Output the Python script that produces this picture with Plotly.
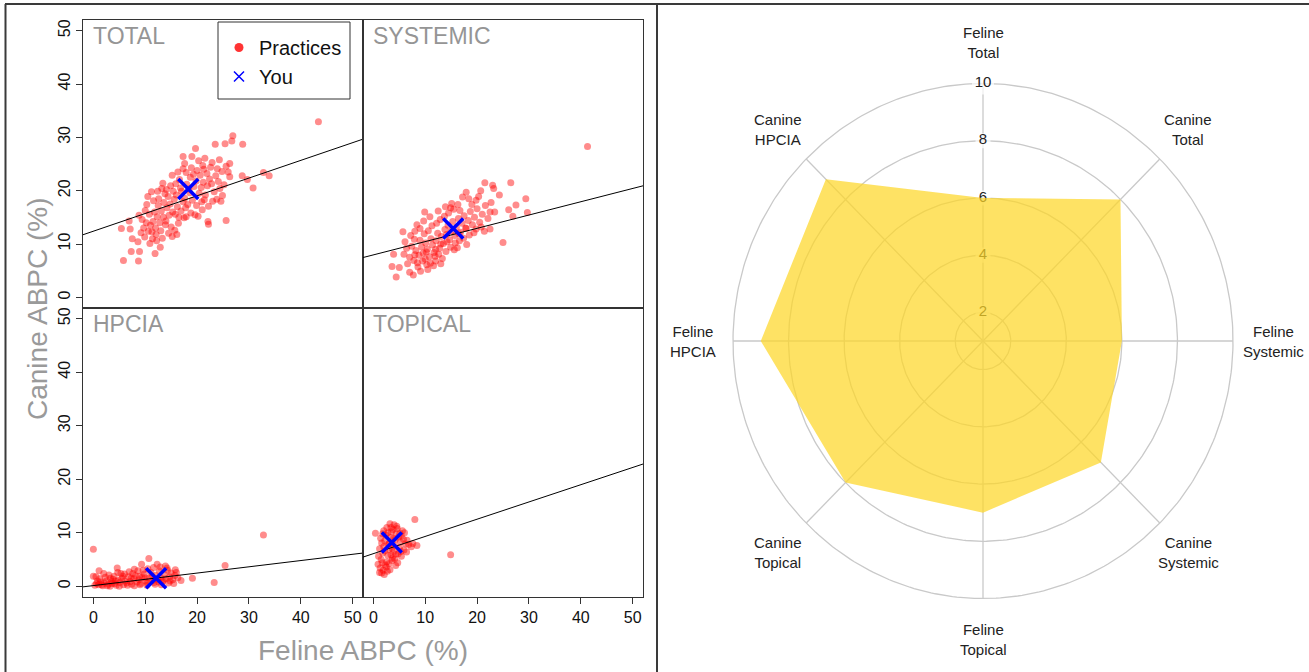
import numpy as np
import plotly.graph_objects as go

W, H = 1309, 672
FONT = "Liberation Sans, Arial, Helvetica, sans-serif"

# ---------------- data ----------------
panel_names = ["TOTAL", "SYSTEMIC", "HPCIA", "TOPICAL"]
axis_ticks = [0, 10, 20, 30, 40, 50]

total_xy = [
    (43.4,32.9),(26.9,30.3),(26.7,29.3),(23.5,28.7),(25.4,28.8),(28.8,28.7),(19.7,27.9),(17.3,26.4),
    (26.3,25.1),(17.3,24.1),(21.1,24.7),(20.0,23.8),(15.2,22.9),(26.0,23.5),(26.3,22.6),(28.7,22.8),
    (29.7,22.1),(32.8,23.4),(33.9,22.8),(30.8,20.5),(25.6,14.4),(22.2,13.7),(24.6,18.0),(23.0,18.0),
    (5.4,12.9),(7.1,12.8),(6.9,14.3),(7.5,11.0),(7.3,8.6),(5.8,6.9),(8.7,6.8),(8.9,8.6),(11.9,8.2),
    (8.6,10.4),(9.9,11.3),(15.2,11.4),(11.2,19.8),(10.5,18.9),(10.3,17.4),(13.2,20.4),(22.1,14.2),
    (11.0,13.5),(11.5,14.2),(12.0,13.0),(12.3,15.1),(12.8,14.0),(13.1,16.2),(13.5,15.0),(13.9,13.6),
    (14.2,16.8),(14.6,15.4),(11.8,16.0),(12.5,17.2),(13.0,12.5),(14.0,14.3),(15.0,13.2),(15.3,16.0),
    (10.8,15.6),(11.3,12.3),(12.1,11.8),(13.6,17.8),(14.8,17.5),(15.8,15.6),(16.2,17.0),(10.2,14.0),
    (9.7,13.0),(10.0,16.3),(12.6,18.5),(14.4,18.9),(15.6,18.4),(16.5,15.0),(16.9,16.2),(17.3,17.9),
    (17.8,16.8),(16.0,19.2),(17.0,19.9),(17.6,18.6),(18.2,17.4),(18.6,19.6),(19.1,18.2),(19.4,20.8),
    (18.0,21.2),(19.8,21.8),(20.4,19.5),(20.8,20.6),(21.2,21.6),(21.6,19.2),(22.0,20.9),(22.4,22.2),
    (21.9,23.2),(22.8,21.3),(23.3,19.8),(23.6,22.8),(24.1,21.7),(24.4,20.4),(24.8,23.6),(25.2,21.1),
    (23.9,24.1),(22.6,24.4),(21.3,24.0),(20.6,22.9),(19.3,23.1),(18.7,22.5),(17.9,23.4),(16.6,22.1),
    (15.9,21.3),(14.9,20.9),(14.1,20.2),(13.8,19.4),(15.4,19.9),(16.8,20.5),(18.4,20.3),(19.9,17.2),
    (20.9,17.9),(21.4,18.3),(22.2,17.1),(23.8,18.4),(24.9,19.1),(21.0,16.4),(19.6,15.5),(18.8,15.8),
    (17.5,14.9),(16.4,13.9),(17.9,15.1),(20.2,15.2),(13.3,11.1),(12.2,10.6),(11.4,11.0),(10.6,12.4),
    (9.4,14.6),(8.8,15.4),(9.2,12.1),(10.9,10.1),(12.9,9.4),(14.5,12.0),(15.7,12.6),(16.1,11.8),
    (13.4,21.4),(12.4,19.9),(11.6,18.1),(16.3,23.5),(18.9,24.3),(20.3,25.6),(21.5,26.1),(22.9,25.3),
    (24.3,25.8),(25.6,24.6),(19.0,26.4),(17.6,25.1),
]
systemic_xy = [
    (41.3,28.3),(21.5,21.5),(26.5,21.5),(23.0,21.0),(23.2,20.4),(20.7,20.0),(17.9,19.7),(24.3,19.2),
    (29.4,18.5),(18.4,18.5),(19.8,18.2),(27.5,17.3),(26.1,16.4),(29.7,15.9),(26.9,15.2),(25.0,10.3),
    (9.9,16.0),(5.7,12.3),(3.9,8.1),(3.6,5.8),(4.4,3.8),(5.0,5.6),(6.6,6.3),(7.7,4.2),(7.0,4.7),
    (5.9,8.1),(7.9,10.9),(9.0,12.9),(14.9,16.8),(16.7,16.3),(22.5,16.0),(23.4,16.0),(22.5,12.8),
    (19.4,12.1),(18.0,9.9),(16.2,9.3),(12.0,6.8),(10.3,6.1),(8.5,6.5),
    (8.2,8.8),(8.8,7.9),(9.3,9.5),(9.6,8.3),(10.1,10.2),(10.4,9.0),(10.8,7.6),(11.1,11.0),(11.4,9.8),
    (11.7,8.4),(12.1,10.6),(12.4,12.0),(12.8,9.2),(13.1,11.4),(13.5,10.1),(13.8,12.7),(14.1,11.8),
    (14.4,13.5),(14.7,10.8),(15.0,12.4),(15.3,14.2),(15.7,11.6),(16.0,13.1),(16.4,14.8),(16.8,12.2),
    (17.1,13.9),(17.5,15.3),(17.9,12.9),(18.3,14.4),(18.7,16.1),(19.1,13.6),(19.5,15.0),(20.0,16.6),
    (20.5,14.1),(21.0,15.6),(21.6,17.2),(22.1,14.8),(22.7,17.8),(9.0,10.7),(9.8,11.9),(10.6,12.5),
    (11.3,13.4),(12.2,13.9),(12.9,14.6),(13.7,15.2),(14.5,15.8),(15.5,16.5),(16.3,17.4),(7.4,9.6),
    (7.0,7.5),(7.8,6.9),(8.6,5.7),(9.5,6.8),(10.0,7.2),(11.0,6.4),(11.9,7.7),(12.6,8.1),(13.3,7.3),
    (14.0,8.6),(14.9,9.4),(15.6,8.9),(16.6,10.6),(17.4,11.1),(18.5,11.7),(19.8,12.8),(20.8,13.2),
    (21.4,12.4),(6.4,9.2),(6.1,10.4),(7.2,11.6),(8.0,12.4),(8.4,13.6),(9.7,14.3),(10.9,15.1),
    (12.5,16.2),(13.9,17.0),(15.1,17.6),(17.2,18.8),(19.0,17.4),(20.3,18.9),(11.6,5.9),(13.0,6.3),
    (9.1,4.9),(10.5,5.2),(8.0,8.0),(10.2,8.5),(12.0,9.0),(13.0,10.0),(14.2,10.4),(15.8,10.2),
    (16.5,11.9),(17.8,13.0),
]
hpcia_xy = [
    (32.8,9.6),(0.0,6.9),(0.0,1.9),(10.7,5.2),(12.3,4.1),(4.6,3.4),(7.9,3.2),(9.3,4.1),(25.4,3.9),
    (14.2,3.4),(16.9,1.1),(19.1,1.5),(23.3,0.7),(5.3,2.4),
    (0.3,0.2),(0.6,0.5),(1.0,0.3),(1.4,0.8),(1.8,0.1),(2.1,0.6),(2.5,1.0),(2.9,0.4),(3.2,0.0),
    (3.5,0.9),(3.8,1.3),(4.1,0.5),(4.4,0.2),(4.8,1.1),(5.1,0.7),(5.5,1.5),(5.8,0.3),(6.1,1.0),
    (6.4,0.6),(6.8,1.8),(7.1,0.9),(7.4,0.4),(7.8,1.4),(8.1,2.0),(8.4,0.8),(8.8,1.2),(9.1,0.5),
    (9.4,1.7),(9.8,2.3),(10.1,1.0),(10.4,0.6),(10.8,1.5),(11.1,2.6),(11.4,1.1),(11.7,0.7),(12.0,2.0),
    (12.4,1.3),(12.7,2.9),(13.0,1.6),(13.3,0.9),(13.7,2.2),(14.0,1.4),(14.3,3.0),(14.7,1.8),
    (15.0,2.5),(15.3,1.2),(15.7,2.0),(16.0,2.6),(1.2,1.4),(2.3,1.7),(3.0,2.1),(4.0,1.9),(4.7,2.6),
    (6.0,2.3),(6.9,2.7),(7.6,2.4),(8.6,2.9),(9.6,3.0),(10.5,3.3),(11.6,3.5),(12.9,3.6),(13.9,3.8),
    (0.8,1.0),(1.6,0.3),(2.7,0.1),(3.6,0.5),(5.0,0.0),(6.6,0.2),(7.9,0.1),(9.0,0.3),(10.3,0.2),
    (11.9,0.4),(13.1,0.3),(14.5,0.6),(15.5,0.5),(3.3,1.5),(4.3,1.0),(5.7,1.9),(7.3,1.5),(8.9,1.9),
    (10.0,1.6),(11.3,1.9),(12.6,0.8),(13.5,1.1),(14.8,1.0),(16.3,1.6),(15.8,3.1),(2.0,2.4),
    (1.1,2.9),(0.5,1.8),
]
topical_xy = [
    (8.0,12.5),(14.9,5.9),(0.4,9.9),(8.4,7.6),(7.3,7.4),(5.4,5.6),(3.2,11.7),(4.0,11.5),(1.2,2.6),
    (1.6,2.5),(0.9,4.1),(4.3,3.9),
    (1.5,5.0),(1.8,6.2),(2.0,7.4),(2.2,8.5),(2.4,9.6),(2.6,4.6),(2.8,5.8),(3.0,6.9),(3.1,8.0),
    (3.3,9.1),(3.5,10.2),(3.7,5.3),(3.9,6.5),(4.0,7.6),(4.2,8.7),(4.4,9.8),(4.6,10.8),(4.8,6.1),
    (5.0,7.2),(5.2,8.3),(5.4,9.4),(5.6,10.4),(1.3,3.4),(1.9,3.0),(2.5,3.6),(3.0,4.2),(3.6,4.8),
    (2.1,2.2),(2.7,2.8),(1.0,5.6),(1.2,7.0),(1.6,8.1),(1.4,9.0),(2.0,10.4),(2.6,11.0),(3.4,11.0),
    (3.8,10.6),(4.5,11.2),(5.1,9.9),(5.8,8.8),(6.2,7.9),(6.5,8.6),(5.9,6.8),(6.8,7.8),(4.1,5.1),
    (4.7,4.4),(3.2,3.1),(2.3,4.0),(1.7,4.4),(2.9,7.9),(3.6,7.1),(4.3,6.0),(4.9,9.2),(2.2,6.6),
    (3.4,5.9),(1.8,9.8),(2.8,10.0),(3.9,9.0),(5.3,6.5),(6.0,10.0),(7.6,8.0),(6.4,6.4),
]
practices = [total_xy, systemic_xy, hpcia_xy, topical_xy]

you_x = [18.3, 15.4, 12.1, 3.55]
you_y = [20.3, 12.9, 1.5, 8.2]

fit_intercept = [12.4, 7.96, 0.13, 6.1]
fit_slope = [0.332, 0.249, 0.117, 0.322]

radar_categories = ["Feline<br>Total", "Canine<br>Total", "Feline<br>Systemic", "Canine<br>Systemic",
                    "Feline<br>Topical", "Canine<br>Topical", "Feline<br>HPCIA", "Canine<br>HPCIA"]
radar_values = [6, 8, 6, 7, 7, 8, 9, 9]
radar_ticks = [2, 4, 6, 8, 10]
radar_min, radar_max = 1, 10

# ---------------- helpers ----------------
def px(x):
    return x / W

def py(y):
    return 1 - y / H

XR = [-2, 52]
YR = [-2, 52]

fig = go.Figure()

# panel geometry in pixels: (left, right, top, bottom)
panels = [(83, 363, 20, 308), (363, 643, 20, 308), (83, 363, 308, 597), (363, 643, 308, 597)]

red = "rgba(255,0,0,0.45)"
blue = "#0000FF"

for i, (l, r, t, b) in enumerate(panels):
    sfx = "" if i == 0 else str(i + 1)
    xa, ya = "x" + sfx, "y" + sfx
    pts = practices[i]
    fig.add_trace(go.Scatter(
        x=[p[0] for p in pts], y=[p[1] for p in pts], mode="markers",
        marker=dict(size=7, color=red, line=dict(width=0)),
        xaxis=xa, yaxis=ya, showlegend=False, hoverinfo="skip"))
    fx = np.array(XR, dtype=float)
    fig.add_trace(go.Scatter(
        x=fx, y=fit_intercept[i] + fit_slope[i] * fx, mode="lines",
        line=dict(color="black", width=1), xaxis=xa, yaxis=ya, showlegend=False, hoverinfo="skip"))
    fig.add_trace(go.Scatter(
        x=[you_x[i]], y=[you_y[i]], mode="markers",
        marker=dict(symbol="x-thin", size=20, color=blue, line=dict(color=blue, width=3.5)),
        xaxis=xa, yaxis=ya, showlegend=False, hoverinfo="skip"))

    is_left = i in (0, 2)
    is_bottom = i in (2, 3)
    common = dict(range=XR, showgrid=False, zeroline=False, showline=True, mirror=True,
                  linecolor="#333", linewidth=1, tickvals=axis_ticks,
                  tickfont=dict(size=16, color="#111", family=FONT), ticklen=6,
                  tickcolor="#333", tickwidth=1)
    fig.layout["xaxis" + sfx] = dict(common, domain=[px(l), px(r)], anchor=ya,
                                     ticks="outside" if is_bottom else "",
                                     showticklabels=is_bottom)
    ycommon = dict(common, range=YR)
    fig.layout["yaxis" + sfx] = dict(ycommon, domain=[py(b), py(t)], anchor=xa,
                                     ticks="outside" if is_left else "",
                                     showticklabels=is_left, tickangle=-90)
    fig.add_annotation(x=px(l + 8), y=py(t + 16), xref="paper", yref="paper",
                       text=panel_names[i], showarrow=False, xanchor="left", yanchor="middle",
                       font=dict(size=23, color="#959595", family=FONT))

# legend entries (legend-only traces)
fig.add_trace(go.Scatter(x=[None], y=[None], mode="markers", name="Practices",
                         marker=dict(size=9, color="rgba(255,0,0,0.8)")))
fig.add_trace(go.Scatter(x=[None], y=[None], mode="markers", name="You",
                         marker=dict(symbol="x-thin", size=10, color=blue, line=dict(color=blue, width=1.5))))

# axis titles
fig.add_annotation(x=px(37), y=py(309), xref="paper", yref="paper", text="Canine ABPC (%)",
                   textangle=-90, showarrow=False, xanchor="center", yanchor="middle",
                   font=dict(size=28, color="#9a9a9a", family=FONT))
fig.add_annotation(x=px(363), y=py(650), xref="paper", yref="paper", text="Feline ABPC (%)",
                   showarrow=False, xanchor="center", yanchor="middle",
                   font=dict(size=28, color="#9a9a9a", family=FONT))

# ---------------- radar (drawn on a cartesian frame) ----------------
cx, cy = 983, 341
rx, ry = 250, 257.5
xr_half, yr_half = 1.3, 1.25
fig.layout["xaxis5"] = dict(domain=[px(cx - xr_half * rx), px(cx + xr_half * rx)], range=[-xr_half, xr_half],
                            visible=False, anchor="y5")
fig.layout["yaxis5"] = dict(domain=[py(cy + yr_half * ry), py(cy - yr_half * ry)], range=[-yr_half, yr_half],
                            visible=False, anchor="x5")

def norm(v):
    return (np.asarray(v, dtype=float) - radar_min) / (radar_max - radar_min)

n = len(radar_categories)
ang = np.arange(n) * 2 * np.pi / n
th = np.linspace(0, 2 * np.pi, 361)
grid_col = "#C9C9C9"
for tv in radar_ticks:
    rr = norm(tv)
    fig.add_trace(go.Scatter(x=rr * np.sin(th), y=rr * np.cos(th), mode="lines",
                             line=dict(color=grid_col, width=1.3), xaxis="x5", yaxis="y5",
                             showlegend=False, hoverinfo="skip"))
for a in ang:
    rr = norm(radar_max)
    fig.add_trace(go.Scatter(x=[0, rr * np.sin(a)], y=[0, rr * np.cos(a)], mode="lines",
                             line=dict(color=grid_col, width=1.3), xaxis="x5", yaxis="y5",
                             showlegend=False, hoverinfo="skip"))
# radial tick labels (under the fill)
tick_r = norm(radar_ticks)
fig.add_trace(go.Scatter(x=np.zeros(len(radar_ticks)), y=tick_r, mode="markers+text",
                         text=[str(t) for t in radar_ticks], textposition="middle center",
                         textfont=dict(size=15, color="#222", family=FONT),
                         marker=dict(symbol="square", color="white",
                                     size=[8 + 7 * len(str(t)) for t in radar_ticks], line=dict(width=0)),
                         xaxis="x5", yaxis="y5", showlegend=False, hoverinfo="skip", cliponaxis=False))
# value polygon
rv = norm(radar_values)
px_poly = list(rv * np.sin(ang)) + [rv[0] * np.sin(ang[0])]
py_poly = list(rv * np.cos(ang)) + [rv[0] * np.cos(ang[0])]
fig.add_trace(go.Scatter(x=px_poly, y=py_poly, mode="lines", fill="toself",
                         fillcolor="rgba(253,215,40,0.72)", line=dict(width=0, color="rgba(0,0,0,0)"),
                         xaxis="x5", yaxis="y5", showlegend=False, hoverinfo="skip"))
# category labels
lab_r = 1.16
for a, lab in zip(ang, radar_categories):
    fig.add_annotation(x=lab_r * np.sin(a), y=lab_r * np.cos(a), xref="x5", yref="y5", text=lab,
                       showarrow=False, xanchor="center", yanchor="middle",
                       font=dict(size=15, color="#222", family=FONT))

# ---------------- frame lines ----------------
frame = dict(color="#3a3a3a", width=2)
fig.add_shape(type="line", xref="paper", yref="paper", x0=px(5), x1=1, y0=py(4), y1=py(4), line=frame)
fig.add_shape(type="line", xref="paper", yref="paper", x0=px(5.5), x1=px(5.5), y0=0, y1=py(4), line=frame)
fig.add_shape(type="line", xref="paper", yref="paper", x0=px(657), x1=px(657), y0=0, y1=py(4), line=frame)
# legend box
fig.add_shape(type="rect", xref="paper", yref="paper", x0=px(218), x1=px(350), y0=py(99), y1=py(22),
              line=dict(color="#333", width=1), layer="above")

fig.update_layout(
    width=W, height=H, margin=dict(l=0, r=0, t=0, b=0),
    paper_bgcolor="white", plot_bgcolor="white",
    font=dict(family=FONT),
    showlegend=True,
    legend=dict(x=px(219), y=py(28), xanchor="left", yanchor="top", bgcolor="rgba(0,0,0,0)",
                borderwidth=0, font=dict(size=20, color="#111", family=FONT), tracegroupgap=0),
)

fig.write_html("out.html", config={"displayModeBar": False},
               post_script="document.body.style.margin='0px';document.body.style.overflow='hidden';")
